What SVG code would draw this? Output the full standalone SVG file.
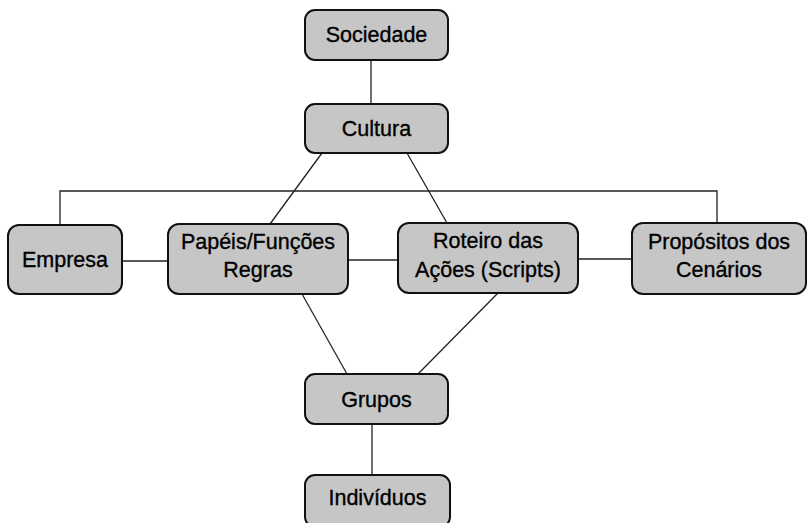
<svg xmlns="http://www.w3.org/2000/svg" width="808" height="523" viewBox="0 0 808 523">
<style>
.box{fill:#c6c6c6;stroke:#111;stroke-width:2}
.t{font-family:"Liberation Sans",Arial,sans-serif;font-size:21.5px;fill:#000;stroke:#000;stroke-width:0.35;text-anchor:middle}
.c{fill:none;stroke:#222;stroke-width:1.3}
</style>
<rect width="808" height="523" fill="#fff"/>
<g id="connectors">
<line class="c" x1="371" y1="60" x2="371" y2="104"/>
<line class="c" x1="322" y1="153" x2="270" y2="224"/>
<line class="c" x1="407" y1="153" x2="447" y2="223"/>
<polyline class="c" points="60,225 60,191 717,191 717,223"/>
<line class="c" x1="122" y1="261" x2="168" y2="261"/>
<line class="c" x1="348" y1="260" x2="398" y2="260"/>
<line class="c" x1="578" y1="259" x2="632" y2="259"/>
<line class="c" x1="302" y1="294" x2="347" y2="374"/>
<line class="c" x1="498" y1="293" x2="418" y2="374"/>
<line class="c" x1="372" y1="424" x2="372" y2="475"/>
</g>
<g id="sociedade"><rect class="box" x="305" y="10" width="143" height="50" rx="10"/><text class="t" x="376.5" y="42">Sociedade</text></g>
<g id="cultura"><rect class="box" x="305" y="104" width="143" height="49" rx="10"/><text class="t" x="376.5" y="136">Cultura</text></g>
<g id="empresa"><rect class="box" x="8" y="225" width="114" height="69" rx="11"/><text class="t" x="65" y="267">Empresa</text></g>
<g id="papeis"><rect class="box" x="168" y="224" width="180" height="70" rx="11"/><text class="t" x="258" y="249">Papéis/Funções</text><text class="t" x="258" y="277">Regras</text></g>
<g id="roteiro"><rect class="box" x="398" y="223" width="180" height="70" rx="11"/><text class="t" x="488" y="248">Roteiro das</text><text class="t" x="488" y="277">Ações (Scripts)</text></g>
<g id="propositos"><rect class="box" x="632" y="223" width="174" height="71" rx="11"/><text class="t" x="719" y="249">Propósitos dos</text><text class="t" x="719" y="277">Cenários</text></g>
<g id="grupos"><rect class="box" x="305" y="374" width="143" height="50" rx="10"/><text class="t" x="376.5" y="407">Grupos</text></g>
<g id="individuos"><rect class="box" x="305" y="475" width="145" height="52" rx="10"/><text class="t" x="377.5" y="505">Indivíduos</text></g>
</svg>
